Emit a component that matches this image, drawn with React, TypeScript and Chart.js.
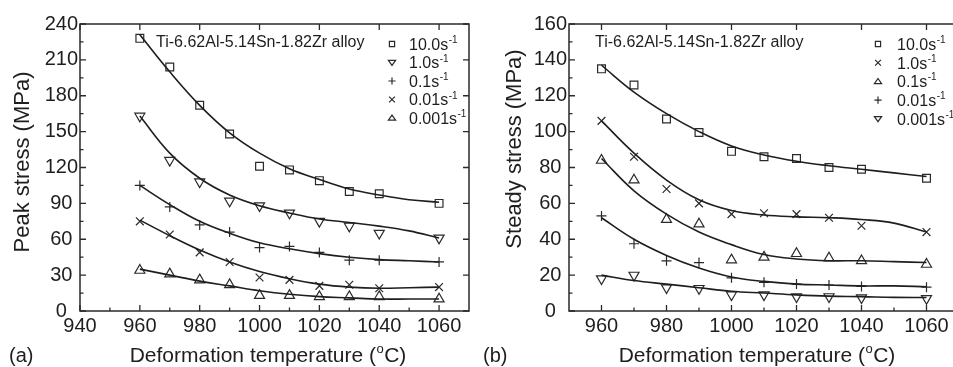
import React, { useEffect, useRef } from "react";
import { Chart, registerables } from "chart.js";

Chart.register(...registerables);

const FONT = '"Liberation Sans", Arial, Helvetica, sans-serif';
const INK = "#1e1e1e";

// ---------- data ----------
const temps = [960, 970, 980, 990, 1000, 1010, 1020, 1030, 1040, 1060];
const fitTemps = [960, 970, 980, 990, 1000, 1010, 1020, 1030, 1040, 1050, 1060];

// (a) Peak stress, MPa
const peakLabels = ["10.0", "1.0", "0.1", "0.01", "0.001"];
const peak10 = [228, 204, 172, 148, 121, 118, 109, 100, 98, 90];
const peak1 = [163, 126, 108, 92, 88, 82, 75, 71, 65, 61];
const peak01 = [105, 87, 72, 66, 53, 54, 49, 42.5, 42.5, 41];
const peak001 = [75, 64, 49, 41, 28, 26, 21, 22, 19, 20];
const peak0001 = [34, 31, 26, 22, 13, 13, 12, 12, 12, 10];
const peakFit10 = [231, 200, 172, 149, 132, 119, 110, 102, 97, 93, 91];
const peakFit1 = [163, 132, 111, 97, 88, 82, 77, 74, 71, 67, 61];
const peakFit01 = [105, 89, 75, 65, 57, 52, 48, 45, 43, 42, 41];
const peakFit001 = [76, 63, 51, 41, 33, 27, 22.5, 20, 19, 19.5, 20];
const peakFit0001 = [35, 30, 25, 21, 17, 14, 12, 11, 10, 10, 10];

// (b) Steady stress, MPa
const steadyLabels = ["10.0", "1.0", "0.1", "0.01", "0.001"];
const steady10 = [135, 126, 107, 99.5, 89, 86, 85, 80, 79, 74];
const steady1 = [106, 86, 68, 60, 54, 54.5, 54, 52, 47.5, 44];
const steady01 = [84, 73, 51, 48.5, 28.5, 30, 32, 29.5, 28, 26];
const steady001 = [53, 37.5, 28, 27, 18.5, 16, 15, 14.5, 13.7, 13.3];
const steady0001 = [18, 20, 13, 12.6, 9, 9, 8, 8, 7.4, 7];
const steadyFit10 = [137, 122, 110, 100, 92, 87, 83.5, 81, 79, 77, 75];
const steadyFit1 = [106, 88, 73, 62, 56, 53.5, 52.5, 52, 51, 49, 44];
const steadyFit01 = [85, 67, 54, 44, 37, 31.5, 29, 28, 28, 27.5, 27];
const steadyFit001 = [52, 40, 31, 24, 19, 16.5, 15, 14.5, 14, 14, 13.5];
const steadyFit0001 = [20, 17, 15, 13, 11, 10, 9, 8.3, 8, 7.6, 7.5];

// ticks
const peakXTicks = [940, 960, 980, 1000, 1020, 1040, 1060];
const peakXMinor = [950, 970, 990, 1010, 1030, 1050];
const peakYTicks = [0, 30, 60, 90, 120, 150, 180, 210, 240];
const peakYMinor = [15, 45, 75, 105, 135, 165, 195, 225];
const steadyXTicks = [960, 980, 1000, 1020, 1040, 1060];
const steadyXMinor = [970, 990, 1010, 1030, 1050];
const steadyYTicks = [0, 20, 40, 60, 80, 100, 120, 140, 160];
const steadyYMinor = [10, 30, 50, 70, 90, 110, 130, 150];

type Marker = "square" | "down" | "up" | "plus" | "cross";

type Panel = {
  offset: number;
  width: number;
  axisW: number;
  padRight: number;
  xMin: number;
  xMax: number;
  yMax: number;
  xTicks: number[];
  xMinor: number[];
  yTicks: number[];
  yMinor: number[];
  series: number[][];
  fits: number[][];
  labels: string[];
  markers: Marker[];
  yTitle: string;
  yTitleX: number;
  yTitleY: number;
  xTitleX: number;
  tag: string;
  tagX: number;
  alloyX: number;
  legMarkX: number;
  legTextX: number;
  legY0: number;
  legDy: number;
};

const panels: Panel[] = [
  {
    offset: 0,
    width: 476,
    axisW: 80,
    padRight: 6,
    xMin: 940,
    xMax: 1070,
    yMax: 240,
    xTicks: peakXTicks,
    xMinor: peakXMinor,
    yTicks: peakYTicks,
    yMinor: peakYMinor,
    series: [peak10, peak1, peak01, peak001, peak0001],
    fits: [peakFit10, peakFit1, peakFit01, peakFit001, peakFit0001],
    labels: peakLabels,
    markers: ["square", "down", "plus", "cross", "up"],
    yTitle: "Peak stress (MPa)",
    yTitleX: 23,
    yTitleY: 162,
    xTitleX: 268,
    tag: "(a)",
    tagX: 9,
    alloyX: 156,
    legMarkX: 392,
    legTextX: 409,
    legY0: 44,
    legDy: 18.5,
  },
  {
    offset: 476,
    width: 490,
    axisW: 93,
    padRight: 5.8,
    xMin: 950,
    xMax: 1070,
    yMax: 160,
    xTicks: steadyXTicks,
    xMinor: steadyXMinor,
    yTicks: steadyYTicks,
    yMinor: steadyYMinor,
    series: [steady10, steady1, steady01, steady001, steady0001],
    fits: [steadyFit10, steadyFit1, steadyFit01, steadyFit001, steadyFit0001],
    labels: steadyLabels,
    markers: ["square", "cross", "up", "plus", "down"],
    yTitle: "Steady stress (MPa)",
    yTitleX: 39,
    yTitleY: 149,
    xTitleX: 281,
    tag: "(b)",
    tagX: 7,
    alloyX: 119,
    legMarkX: 402,
    legTextX: 421,
    legY0: 44,
    legDy: 18.7,
  },
];

function pointStyleFor(m: Marker): { style: any; rotation: number; radius: number } {
  switch (m) {
    case "square":
      return { style: "rect", rotation: 0, radius: 5.5 };
    case "down":
      return { style: "triangle", rotation: 180, radius: 5.8 };
    case "up":
      return { style: "triangle", rotation: 0, radius: 5.8 };
    case "plus":
      return { style: "cross", rotation: 0, radius: 5 };
    default:
      return { style: "crossRot", rotation: 0, radius: 5.5 };
  }
}

function drawLegendMarker(ctx: CanvasRenderingContext2D, m: Marker, x: number, y: number) {
  ctx.beginPath();
  const r = 3.6;
  if (m === "square") {
    ctx.rect(x - 2.6, y - 2.6, 5.2, 5.2);
  } else if (m === "down") {
    ctx.moveTo(x - r, y - r * 0.6);
    ctx.lineTo(x + r, y - r * 0.6);
    ctx.lineTo(x, y + r * 0.8);
    ctx.closePath();
  } else if (m === "up") {
    ctx.moveTo(x - r, y + r * 0.6);
    ctx.lineTo(x + r, y + r * 0.6);
    ctx.lineTo(x, y - r * 0.8);
    ctx.closePath();
  } else if (m === "plus") {
    ctx.moveTo(x - r, y);
    ctx.lineTo(x + r, y);
    ctx.moveTo(x, y - r);
    ctx.lineTo(x, y + r);
  } else {
    const d = r * 0.8;
    ctx.moveTo(x - d, y - d);
    ctx.lineTo(x + d, y + d);
    ctx.moveTo(x - d, y + d);
    ctx.lineTo(x + d, y - d);
  }
  ctx.stroke();
}

function drawSup(
  ctx: CanvasRenderingContext2D,
  parts: { t: string; sup?: boolean }[],
  x: number,
  y: number,
  size: number,
  align: "left" | "center"
) {
  const supSize = Math.round(size * 0.62);
  let total = 0;
  const widths = parts.map((p) => {
    ctx.font = `${p.sup ? supSize : size}px ${FONT}`;
    const w = ctx.measureText(p.t).width + (p.sup ? 1 : 0);
    total += w;
    return w;
  });
  let cx = align === "center" ? x - total / 2 : x;
  ctx.textAlign = "left";
  ctx.textBaseline = "alphabetic";
  parts.forEach((p, i) => {
    ctx.font = `${p.sup ? supSize : size}px ${FONT}`;
    ctx.fillText(p.t, cx + (p.sup ? 0.5 : 0), p.sup ? y - size * 0.42 : y);
    cx += widths[i];
  });
}

function makeConfig(p: Panel): any {
  const datasets: any[] = [];
  p.fits.forEach((f) => {
    datasets.push({
      type: "line",
      data: fitTemps.map((t, i) => ({ x: t, y: f[i] })),
      borderColor: INK,
      borderWidth: 1.6,
      pointRadius: 0,
      tension: 0.4,
      fill: false,
    });
  });
  p.series.forEach((s, k) => {
    const ps = pointStyleFor(p.markers[k]);
    datasets.push({
      type: "line",
      data: temps.map((t, i) => ({ x: t, y: s[i] })),
      showLine: false,
      pointStyle: ps.style,
      rotation: ps.rotation,
      pointRadius: ps.radius,
      pointBorderWidth: 1.2,
      pointBorderColor: "#2a2a2a",
      pointBackgroundColor: "rgba(0,0,0,0)",
    });
  });

  const framePlugin = {
    id: "frame" + p.offset,
    afterDraw(chart: any) {
      const ctx: CanvasRenderingContext2D = chart.ctx;
      const { left, right, top, bottom } = chart.chartArea;
      const xs = chart.scales.x;
      const ys = chart.scales.y;
      ctx.save();
      ctx.strokeStyle = "#2a2a2a";
      ctx.lineWidth = 1.5;
      ctx.strokeRect(left, top, right - left, bottom - top);
      ctx.lineWidth = 1.3;
      ctx.beginPath();
      p.xTicks.forEach((v) => {
        const px = xs.getPixelForValue(v);
        ctx.moveTo(px, bottom);
        ctx.lineTo(px, bottom - 6);
        ctx.moveTo(px, top);
        ctx.lineTo(px, top + 6);
      });
      p.xMinor.forEach((v) => {
        const px = xs.getPixelForValue(v);
        ctx.moveTo(px, bottom);
        ctx.lineTo(px, bottom - 3.5);
      });
      p.yTicks.forEach((v) => {
        const py = ys.getPixelForValue(v);
        ctx.moveTo(left, py);
        ctx.lineTo(left + 6, py);
        ctx.moveTo(right, py);
        ctx.lineTo(right - 6, py);
      });
      p.yMinor.forEach((v) => {
        const py = ys.getPixelForValue(v);
        ctx.moveTo(left, py);
        ctx.lineTo(left + 3.5, py);
      });
      ctx.stroke();

      ctx.fillStyle = INK;
      // alloy annotation
      ctx.font = `16px ${FONT}`;
      ctx.textAlign = "left";
      ctx.textBaseline = "middle";
      ctx.fillText("Ti-6.62Al-5.14Sn-1.82Zr alloy", p.alloyX, 43);

      // legend
      ctx.strokeStyle = "#2a2a2a";
      ctx.lineWidth = 1.2;
      p.labels.forEach((lab, i) => {
        const cy = p.legY0 + i * p.legDy;
        drawLegendMarker(ctx, p.markers[i], p.legMarkX, cy);
        drawSup(ctx, [{ t: lab + "s" }, { t: "-1", sup: true }], p.legTextX, cy + 5.8, 16, "left");
      });

      // y title
      ctx.save();
      ctx.translate(p.yTitleX, p.yTitleY);
      ctx.rotate(-Math.PI / 2);
      ctx.font = `22px ${FONT}`;
      ctx.textAlign = "center";
      ctx.textBaseline = "middle";
      ctx.fillText(p.yTitle, 0, 0);
      ctx.restore();

      // x title
      drawSup(
        ctx,
        [{ t: "Deformation temperature (" }, { t: "o", sup: true }, { t: "C)" }],
        p.xTitleX,
        362,
        21,
        "center"
      );
      // panel tag
      ctx.font = `20px ${FONT}`;
      ctx.textAlign = "left";
      ctx.textBaseline = "alphabetic";
      ctx.fillText(p.tag, p.tagX, 362);
      ctx.restore();
    },
  };

  return {
    type: "line",
    data: { datasets },
    options: {
      responsive: false,
      animation: false,
      devicePixelRatio: 1,
      layout: { padding: { top: 24, right: p.padRight, left: 0, bottom: 0 } },
      plugins: { legend: { display: false }, tooltip: { enabled: false }, title: { display: false } },
      scales: {
        x: {
          type: "linear",
          min: p.xMin,
          max: p.xMax,
          bounds: "data",
          grid: { display: false, drawTicks: false },
          border: { display: false },
          afterBuildTicks: (s: any) => {
            s.ticks = p.xTicks.map((v) => ({ value: v }));
          },
          afterFit: (s: any) => {
            s.height = 56;
          },
          ticks: {
            autoSkip: false,
            maxRotation: 0,
            padding: 3,
            color: INK,
            font: { family: FONT, size: 20 },
            callback: (v: any) => String(v),
          },
        },
        y: {
          type: "linear",
          min: 0,
          max: p.yMax,
          bounds: "data",
          grid: { display: false, drawTicks: false },
          border: { display: false },
          afterBuildTicks: (s: any) => {
            s.ticks = p.yTicks.map((v) => ({ value: v }));
          },
          afterFit: (s: any) => {
            s.width = p.axisW;
          },
          ticks: {
            autoSkip: false,
            padding: 2,
            crossAlign: "center",
            color: INK,
            font: { family: FONT, size: 20 },
            callback: (v: any) => String(v),
          },
        },
      },
    },
    plugins: [framePlugin],
  };
}

function PanelChart({ panel }: { panel: Panel }) {
  const ref = useRef<HTMLCanvasElement>(null);
  useEffect(() => {
    const chart = new Chart(ref.current as HTMLCanvasElement, makeConfig(panel));
    return () => chart.destroy();
  }, [panel]);
  return (
    <canvas
      ref={ref}
      width={panel.width}
      height={367}
      style={{ position: "absolute", left: panel.offset, top: 0, width: panel.width, height: 367 }}
    />
  );
}

export default function App() {
  return (
    <div
      style={{
        position: "fixed",
        left: 0,
        top: 0,
        width: 953,
        height: 367,
        overflow: "hidden",
        background: "#fff",
      }}
    >
      {panels.map((p) => (
        <PanelChart key={p.offset} panel={p} />
      ))}
    </div>
  );
}
